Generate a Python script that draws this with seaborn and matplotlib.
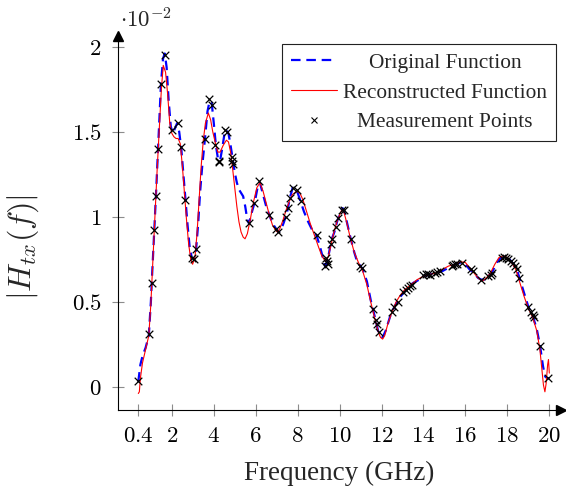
import numpy as np
import pandas as pd
import matplotlib
matplotlib.use("Agg")
import matplotlib.pyplot as plt
import matplotlib.transforms as mtransforms
from matplotlib.lines import Line2D
import seaborn as sns

# |H_tx(f)| values are given in units of 1e-2
orig_freq = [0.4, 0.5, 0.6, 0.75, 0.9, 1.0, 1.04, 1.1, 1.16, 1.24, 1.34, 1.48, 1.58, 1.66,
             1.75, 1.85, 1.95, 2.05, 2.15, 2.25, 2.35, 2.45, 2.55, 2.65, 2.75, 2.85, 2.95,
             3.05, 3.15, 3.25, 3.35, 3.45, 3.58, 3.7, 3.8, 3.9, 4.0, 4.1, 4.2, 4.3, 4.4,
             4.5, 4.6, 4.7, 4.8, 4.9, 5.0, 5.1, 5.2, 5.3, 5.4, 5.5, 5.6, 5.68, 5.8, 5.96,
             6.1, 6.2, 6.35, 6.5, 6.65, 6.8, 6.97, 7.08, 7.2, 7.35, 7.5, 7.63, 7.76, 7.9,
             8.0, 8.14, 8.3, 8.5, 8.7, 8.9, 9.05, 9.2, 9.3, 9.4, 9.5, 9.6, 9.75, 9.9,
             10.05, 10.15, 10.25, 10.4, 10.53, 10.7, 10.85, 11.0, 11.1, 11.3, 11.5, 11.6,
             11.72, 11.85, 11.95, 12.05, 12.2, 12.4, 12.53, 12.7, 12.9, 13.1, 13.3, 13.5,
             13.8, 14.0, 14.3, 14.6, 14.9, 15.2, 15.5, 15.8, 16.0, 16.2, 16.4, 16.6, 16.75,
             16.9, 17.1, 17.3, 17.5, 17.7, 17.9, 18.1, 18.3, 18.5, 18.6, 18.8, 19.0, 19.2,
             19.4, 19.56, 19.7, 19.8, 19.9, 20.0]
orig_val = [0.03, 0.13, 0.18, 0.23, 0.30, 0.50, 0.61, 0.76, 0.92, 1.12, 1.40, 1.78, 1.93, 1.96,
            1.88, 1.68, 1.53, 1.49, 1.52, 1.55, 1.50, 1.40, 1.25, 1.10, 0.95, 0.82, 0.76,
            0.75, 0.80, 0.95, 1.15, 1.30, 1.46, 1.62, 1.68, 1.67, 1.55, 1.42, 1.34, 1.33, 1.40,
            1.48, 1.51, 1.49, 1.42, 1.34, 1.26, 1.20, 1.16, 1.14, 1.12, 1.06, 0.98, 0.96, 1.02, 1.09,
            1.18, 1.20, 1.13, 1.06, 1.01, 0.96, 0.93, 0.91, 0.92, 0.97, 1.03, 1.11, 1.17, 1.16,
            1.14, 1.09, 1.03, 0.97, 0.92, 0.89, 0.83, 0.76, 0.71, 0.73, 0.79, 0.86, 0.91, 0.98,
            1.03, 1.05, 1.02, 0.94, 0.87, 0.79, 0.73, 0.71, 0.69, 0.62, 0.50, 0.45,
            0.39, 0.32, 0.30, 0.29, 0.33, 0.41, 0.45, 0.49, 0.53, 0.56, 0.59, 0.61,
            0.63, 0.65, 0.66, 0.67, 0.68, 0.70, 0.72, 0.73, 0.72, 0.69, 0.67, 0.64, 0.63,
            0.63, 0.65, 0.68, 0.73, 0.76, 0.76, 0.75, 0.72, 0.67, 0.63, 0.55, 0.47, 0.42,
            0.34, 0.24, 0.12, 0.06, 0.05, 0.05]

recon_freq = [0.4, 0.45, 0.5, 0.6, 0.75, 0.9, 1.0, 1.1, 1.2, 1.3, 1.4, 1.5, 1.59, 1.7, 1.8,
              1.9, 2.0, 2.1, 2.2, 2.3, 2.4, 2.5, 2.6, 2.7, 2.8, 2.9, 2.99, 3.1, 3.2, 3.3,
              3.4, 3.5, 3.6, 3.74, 3.85, 3.95, 4.1, 4.2, 4.3, 4.45, 4.6, 4.7, 4.8, 4.9,
              5.0, 5.1, 5.2, 5.3, 5.4, 5.49, 5.6, 5.75, 5.9, 6.05, 6.2, 6.35, 6.5, 6.65,
              6.8, 6.95, 7.03, 7.15, 7.3, 7.45, 7.6, 7.75, 7.95, 8.1, 8.25, 8.4, 8.6, 8.8,
              9.0, 9.15, 9.3, 9.45, 9.6, 9.75, 9.9, 10.1, 10.2, 10.35, 10.5, 10.7, 10.9,
              11.1, 11.3, 11.5, 11.7, 11.85, 11.95, 12.05, 12.15, 12.3, 12.5, 12.7, 12.9,
              13.1, 13.4, 13.7, 14.0, 14.3, 14.6, 14.9, 15.2, 15.5, 15.8, 16.0, 16.2, 16.4,
              16.6, 16.8, 17.0, 17.2, 17.4, 17.6, 17.8, 18.0, 18.2, 18.4, 18.6, 18.8, 19.0,
              19.2, 19.4, 19.55, 19.65, 19.72, 19.79, 19.85, 19.92, 19.96, 20.0]
recon_val = [-0.04, -0.03, 0.05, 0.14, 0.22, 0.30, 0.49, 0.76, 1.02, 1.28, 1.52, 1.75, 1.89,
             1.85, 1.72, 1.55, 1.49, 1.47, 1.46, 1.46, 1.43, 1.30, 1.14, 0.98, 0.84, 0.75,
             0.72, 0.76, 0.90, 1.10, 1.30, 1.45, 1.55, 1.61, 1.57, 1.50, 1.42, 1.38, 1.38,
             1.42, 1.45, 1.44, 1.38, 1.28, 1.17, 1.06, 0.97, 0.91, 0.88, 0.87, 0.90, 0.99,
             1.09, 1.17, 1.20, 1.15, 1.08, 1.01, 0.95, 0.92, 0.91, 0.93, 0.98, 1.04, 1.09,
             1.13, 1.15, 1.14, 1.10, 1.04, 0.96, 0.89, 0.82, 0.77, 0.74, 0.76, 0.84, 0.92,
             0.98, 1.04, 1.03, 0.96, 0.88, 0.79, 0.73, 0.68, 0.60, 0.49, 0.39, 0.32, 0.29,
             0.28, 0.30, 0.37, 0.44, 0.50, 0.54, 0.57, 0.60, 0.63, 0.65, 0.66, 0.67, 0.69,
             0.71, 0.72, 0.735, 0.73, 0.70, 0.67, 0.64, 0.62, 0.64, 0.67, 0.72, 0.76, 0.77,
             0.76, 0.73, 0.69, 0.61, 0.53, 0.46, 0.41, 0.33, 0.22, 0.10, 0.01, -0.03, 0.02,
             0.13, 0.16, 0.08]

meas_freq = [0.4, 0.92, 1.04, 1.16, 1.24, 1.34, 1.48, 1.66, 1.99, 2.28, 2.44, 2.64, 2.95,
             3.06, 3.15, 3.58, 3.76, 3.91, 4.07, 4.23, 4.26, 4.54, 4.64, 4.86, 4.89, 4.92,
             5.66, 5.94, 6.14, 6.65, 6.97, 7.08, 7.46, 7.55, 7.63, 7.76, 7.96, 8.14, 8.91,
             9.3, 9.36, 9.4, 9.43, 9.57, 9.65, 9.83, 9.94, 10.13, 10.2, 10.53, 10.97, 11.08,
             11.58, 11.72, 11.77, 11.86, 12.5, 12.58, 12.8, 13.04, 13.15, 13.25, 13.35, 13.44,
             14.0, 14.1, 14.2, 14.3, 14.55, 14.65, 14.78, 15.35, 15.42, 15.52, 15.6, 15.85,
             16.25, 16.38, 16.73, 17.09, 17.2, 17.28, 17.73, 17.82, 17.95, 18.05, 18.15,
             18.25, 18.37, 18.45, 18.57, 19.0, 19.11, 19.2, 19.27, 19.56, 19.95]
meas_val = [0.035, 0.31, 0.61, 0.92, 1.12, 1.40, 1.78, 1.95, 1.51, 1.55, 1.41, 1.10, 0.76,
            0.75, 0.81, 1.46, 1.69, 1.66, 1.42, 1.32, 1.33, 1.51, 1.50, 1.35, 1.33, 1.31,
            0.965, 1.08, 1.21, 1.01, 0.93, 0.91, 1.0, 1.05, 1.11, 1.17, 1.16, 1.09, 0.89,
            0.71, 0.76, 0.74, 0.72, 0.84, 0.87, 0.94, 0.99, 1.04, 1.04, 0.87, 0.71, 0.70,
            0.46, 0.39, 0.37, 0.32, 0.44, 0.47, 0.50, 0.56, 0.57, 0.58, 0.59, 0.60,
            0.66, 0.665, 0.665, 0.66, 0.67, 0.675, 0.68, 0.71, 0.715, 0.72, 0.72, 0.73,
            0.69, 0.68, 0.63, 0.65, 0.66, 0.67, 0.76, 0.765, 0.76, 0.75, 0.74,
            0.725, 0.71, 0.69, 0.64, 0.47, 0.44, 0.42, 0.41, 0.24, 0.05]

x_ticks = [0.4, 2, 4, 6, 8, 10, 12, 14, 16, 18, 20]
y_ticks = [0, 0.5, 1, 1.5, 2]

orig_df = pd.DataFrame({"freq": orig_freq, "H": orig_val})
recon_df = pd.DataFrame({"freq": recon_freq, "H": recon_val})
meas_df = pd.DataFrame({"freq": meas_freq, "H": meas_val})

sns.set_theme(style="white")
plt.rcParams["font.family"] = ["Liberation Serif", "DejaVu Serif"]
plt.rcParams["mathtext.fontset"] = "cm"

W, H = 566, 488
fig = plt.figure(figsize=(W / 100, H / 100), dpi=100)
# axes box in pixels: left 118, right 561, top 36, bottom 410
L, R, T, B = 118, 561, 36, 410
ax = fig.add_axes([L / W, 1 - B / H, (R - L) / W, (B - T) / H])

sns.lineplot(data=orig_df, x="freq", y="H", ax=ax, color="blue", lw=1.6,
             sort=False, estimator=None, label="Original Function", legend=False)
ax.lines[-1].set_dashes((4.3, 2.6))
sns.lineplot(data=recon_df, x="freq", y="H", ax=ax, color="red", lw=0.8,
             sort=False, estimator=None, label="Reconstructed Function", legend=False)
sns.scatterplot(data=meas_df, x="freq", y="H", ax=ax, marker="x", color="black",
                s=30, linewidth=0.9, label="Measurement Points", legend=False, zorder=5)

# pixel -> data mapping: x 138.3px at 0.4 GHz, 20.97 px/GHz; y 386.7px at 0, 170 px/unit
ax.set_xlim(0.4 + (L - 138.3) / 20.97, 0.4 + (R - 138.3) / 20.97)
ax.set_ylim((386.7 - B) / 170, (386.7 - T) / 170)

ax.set_xticks(x_ticks, labels=[f"${t:g}$" for t in x_ticks])
ax.set_yticks(y_ticks, labels=[f"${t:g}$" for t in y_ticks])
ax.tick_params(axis="both", which="major", direction="inout", length=8.6, width=0.8,
               color="#8c8c8c", labelcolor="black", labelsize=16.5, pad=7.5,
               bottom=True, left=True)

for side in ["top", "right"]:
    ax.spines[side].set_visible(False)
for side in ["left", "bottom"]:
    ax.spines[side].set_color("black")
    ax.spines[side].set_linewidth(0.8)

# arrow heads at the ends of the axis lines
ax.plot(1, 0, marker=">", color="black", ms=6.5, transform=ax.transAxes, clip_on=False)
ax.plot(0, 1, marker="^", color="black", ms=6.5, transform=ax.transAxes, clip_on=False)

ax.set_xlabel("Frequency (GHz)", fontsize=19.5)
ax.set_ylabel(r"$|H_{tx}(f)|$", fontsize=23)
ax.xaxis.set_label_coords(0.5, -0.135)
ax.yaxis.set_label_coords(-0.173, 0.435)

fig.text(120 / W, 1 - 28 / H, r"$\cdot 10^{-2}$", fontsize=16.5, va="baseline", ha="left")

handles = [
    Line2D([], [], color="blue", lw=1.6, dashes=(4.3, 2.6)),
    Line2D([], [], color="red", lw=0.8),
    Line2D([], [], color="black", marker="x", ls="none", ms=5, mew=0.8),
]
labels = ["Original Function", "Reconstructed Function", "Measurement Points"]
leg = ax.legend(handles, labels, loc="upper right",
                bbox_to_anchor=(556 / W, 1 - 44 / H), bbox_transform=fig.transFigure,
                borderaxespad=0, fontsize=15.4, frameon=True, fancybox=False,
                framealpha=1, edgecolor="#222222", handlelength=2.15,
                handletextpad=0.3, labelspacing=0.45, borderpad=0.42)
leg.get_frame().set_linewidth(0.8)

# centre the legend labels within their column
fig.canvas.draw()
renderer = fig.canvas.get_renderer()
texts = leg.get_texts()
widths = [t.get_window_extent(renderer).width for t in texts]
wmax = max(widths)
for t, w in zip(texts, widths):
    t.set_transform(t.get_transform() + mtransforms.Affine2D().translate((wmax - w) / 2, 0))

fig.savefig("out.png", dpi=100)
